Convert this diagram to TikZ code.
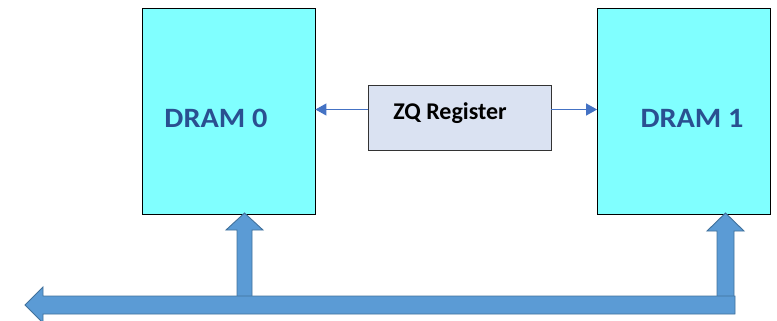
\documentclass[tikz,border=0pt]{standalone}
\usepackage{fontspec}
\setmainfont{Carlito}
\usetikzlibrary{arrows.meta}
\definecolor{cyanbox}{RGB}{128,255,255}
\definecolor{zqfill}{RGB}{218,226,242}
\definecolor{dramtext}{RGB}{42,80,145}
\definecolor{thinblue}{RGB}{68,114,196}
\definecolor{bigfill}{RGB}{91,155,213}
\definecolor{bigline}{RGB}{65,113,156}
\tikzset{
  drambox/.style={draw=black, line width=0.8pt, fill=cyanbox, minimum width=173pt, minimum height=206pt, inner sep=0pt},
  zqbox/.style={draw=black!80, line width=0.8pt, fill=zqfill, minimum width=183pt, minimum height=65pt, inner sep=0pt},
  dramlabel/.style={font=\fontsize{28}{28}\selectfont\bfseries, text=dramtext, inner sep=0pt, anchor=base, xscale=1.08},
  zqlabel/.style={font=\fontsize{24}{24}\selectfont\bfseries, text=black, inner sep=0pt, anchor=base},
  thinarrow/.style={draw=thinblue, line width=1.1pt, -{Triangle[length=11pt,width=12pt]}},
  bigarrow/.style={fill=bigfill, draw=bigline, line width=0.9pt, line join=miter}
}
\begin{document}
\begin{tikzpicture}[x=1pt,y=-1pt]
\useasboundingbox (0,0) rectangle (777,321);
% boxes
\node[drambox] (d0) at (228.5,111) {};
\node[drambox] (d1) at (684,111) {};
\node[zqbox] (zq) at (459.5,117.5) {};
% labels
\node[dramlabel] (t0) at (216,128) {DRAM 0};
\node[dramlabel] (t1) at (692,128) {DRAM 1};
\node[zqlabel] (tz) at (450,120) {ZQ Register};
% thin arrows
\coordinate (zl) at ([yshift=8pt]zq.west);
\coordinate (zr) at ([yshift=8pt]zq.east);
\draw[thinarrow] (zl) -- (d0.east |- zl);
\draw[thinarrow] (zr) -- (d1.west |- zr);
% big arrows: stems
\draw[bigarrow] (237,300) -- (237,230) -- (226,230) -- (244.5,213) -- (263,230) -- (252,230) -- (252,300) -- cycle;
\draw[bigarrow] (717,300) -- (717,231) -- (707,231) -- (725.5,213) -- (744,231) -- (734,231) -- (734,300) -- cycle;
% bus
\draw[bigarrow] (25,305) -- (43,287) -- (43,296) -- (735,296) -- (735,314) -- (43,314) -- (43,323) -- cycle;
\end{tikzpicture}
\end{document}
